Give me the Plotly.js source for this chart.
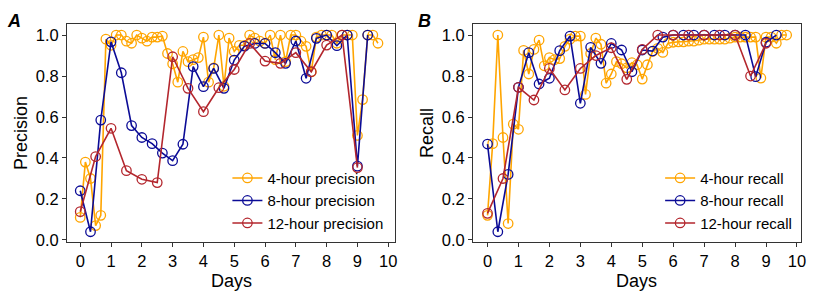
<!DOCTYPE html>
<html>
<head>
<meta charset="utf-8">
<script src="https://cdn.plot.ly/plotly-3.0.1.min.js"></script>
<style>html,body{margin:0;padding:0;background:#fff;}#chart{width:818px;height:294px;}</style>
</head>
<body>
<div id="chart"></div>
<script>
// Sampling times (hours since start)
const hours4 = [0,4,8,12,16,20,24,28,32,36,40,44,48,52,56,60,64,68,72,76,80,84,88,92,96,100,104,108,112,116,120,124,128,132,136,140,144,148,152,156,160,164,168,172,176,180,184,188,192,196,200,204,208,212,216,220,224,228,232];
const hours8 = [0,8,16,24,32,40,48,56,64,72,80,88,96,104,112,120,128,136,144,152,160,168,176,184,192,200,208,216,224];
const hours12 = [0,12,24,36,48,60,72,84,96,108,120,132,144,156,168,180,192,204,216];

const precision4 = [0.11,0.38,0.30,0.07,0.12,0.98,0.95,1.0,1.0,0.97,0.96,1.0,0.985,0.97,0.99,0.99,0.995,0.91,0.86,0.77,0.92,0.87,0.88,0.89,0.99,0.77,0.84,1.0,0.75,0.985,0.92,0.95,0.95,1.0,0.985,0.97,0.96,1.0,0.88,1.0,0.87,1.0,1.0,0.97,0.945,0.82,0.99,1.0,1.0,1.0,0.96,1.0,1.0,1.0,0.51,0.685,1.0,1.0,0.96];
const precision8 = [0.24,0.04,0.585,0.967,0.816,0.558,0.50,0.47,0.424,0.387,0.467,0.846,0.748,0.837,0.74,0.878,0.946,0.959,0.959,0.914,0.862,0.971,0.789,0.984,1.0,0.948,1.0,0.36,1.0];
const precision12 = [0.138,0.407,0.545,0.338,0.296,0.28,0.894,0.74,0.626,0.743,0.832,0.959,0.873,0.862,0.914,0.821,0.951,1.0,0.353];

const recall4 = [0.12,0.47,1.0,0.50,0.08,0.565,0.54,0.925,0.81,0.93,0.975,0.85,0.89,0.88,0.885,0.945,0.98,0.995,0.995,0.71,0.91,0.985,0.955,0.765,0.81,0.87,0.86,0.84,0.865,0.855,0.785,0.855,0.92,0.935,0.915,0.96,0.965,0.967,0.967,0.97,0.97,0.975,0.98,0.98,0.98,0.98,0.98,0.985,0.99,0.99,0.99,0.99,0.99,0.79,0.99,0.99,0.96,1.0,1.0];
const recall8 = [0.468,0.04,0.32,0.745,0.914,0.761,0.789,0.924,0.995,0.667,0.94,0.862,0.959,0.927,0.821,0.927,0.922,0.99,1.0,1.0,1.0,1.0,1.0,1.0,1.0,1.0,0.797,0.965,1.0];
const recall12 = [0.13,0.30,0.745,0.683,0.837,0.732,0.837,0.90,0.938,0.784,0.93,1.0,1.0,1.0,1.0,1.0,1.0,0.80,0.96];

const names = {
  p4: "4-hour precision", p8: "8-hour precision", p12: "12-hour precision",
  r4: "4-hour recall", r8: "8-hour recall", r12: "12-hour recall"
};
const xTicks = [0,1,2,3,4,5,6,7,8,9,10];
const yTicks = [0,0.2,0.4,0.6,0.8,1.0];

const toDays = h => h.map(v => v / 24);
const FONT = "Liberation Sans, Arial, sans-serif";
const C4 = "#FFA500", C8 = "#0B0B96", C12 = "#B3262D";

function tr(x, y, name, color, xa, ya, lg) {
  return {
    x: toDays(x), y: y, name: name, type: "scatter", mode: "lines+markers",
    xaxis: xa, yaxis: ya, legend: lg,
    line: {color: color, width: 1.6},
    marker: {symbol: "circle-open", size: 9.5, color: color, line: {width: 1.3, color: color}}
  };
}

const data = [
  tr(hours4, precision4, names.p4, C4, "x", "y", "legend"),
  tr(hours8, precision8, names.p8, C8, "x", "y", "legend"),
  tr(hours12, precision12, names.p12, C12, "x", "y", "legend"),
  tr(hours4, recall4, names.r4, C4, "x2", "y2", "legend2"),
  tr(hours8, recall8, names.r8, C8, "x2", "y2", "legend2"),
  tr(hours12, recall12, names.r12, C12, "x2", "y2", "legend2")
];

const axisCommon = {
  showline: true, mirror: true, linecolor: "#333", linewidth: 1,
  ticks: "outside", ticklen: 4, tickcolor: "#333", tickwidth: 1,
  showgrid: false, zeroline: false,
  tickfont: {family: FONT, size: 16.5, color: "#000"}
};
function xax(domain, range, anchor) {
  return Object.assign({}, axisCommon, {
    domain: domain, range: range, anchor: anchor,
    tickmode: "array", tickvals: xTicks, ticktext: xTicks.map(String)
  });
}
function yax(title, anchor) {
  return Object.assign({}, axisCommon, {
    domain: [0.1769, 0.9184], range: [-0.01, 1.054], anchor: anchor,
    tickmode: "array", tickvals: yTicks, ticktext: yTicks.map(v => v.toFixed(1)),
    title: {text: title, font: {family: FONT, size: 18, color: "#000"}, standoff: 3}
  });
}

const legendCommon = {
  font: {family: FONT, size: 15, color: "#000"},
  bgcolor: "rgba(0,0,0,0)", borderwidth: 0,
  xanchor: "left", yanchor: "top", tracegroupgap: 0
};

const titleFont = {family: FONT, size: 18, color: "#000"};

const layout = {
  width: 818, height: 294,
  margin: {l: 0, r: 0, t: 0, b: 0},
  paper_bgcolor: "#fff", plot_bgcolor: "#fff",
  showlegend: true,
  xaxis: xax([0.0819, 0.4829], [-0.43, 10.22], "y"),
  yaxis: yax("Precision", "x"),
  xaxis2: xax([0.5782, 0.9792], [-0.47, 10.13], "y2"),
  yaxis2: yax("Recall", "x2"),
  legend: Object.assign({}, legendCommon, {x: 0.278, y: 0.45}),
  legend2: Object.assign({}, legendCommon, {x: 0.807, y: 0.45}),
  annotations: [
    {text: "<b><i>A</i></b>", xref: "paper", yref: "paper", x: 5/818, y: 1 - 9/294,
     xanchor: "left", yanchor: "top", showarrow: false, font: titleFont},
    {text: "<b><i>B</i></b>", xref: "paper", yref: "paper", x: 416/818, y: 1 - 9/294,
     xanchor: "left", yanchor: "top", showarrow: false, font: titleFont},
    {text: "Days", xref: "x domain", yref: "paper", x: 0.5, y: 13.5/294,
     xanchor: "center", yanchor: "middle", showarrow: false, font: titleFont},
    {text: "Days", xref: "x2 domain", yref: "paper", x: 0.5, y: 13.5/294,
     xanchor: "center", yanchor: "middle", showarrow: false, font: titleFont}
  ]
};

Plotly.newPlot("chart", data, layout, {staticPlot: true, displayModeBar: false});
</script>
</body>
</html>
